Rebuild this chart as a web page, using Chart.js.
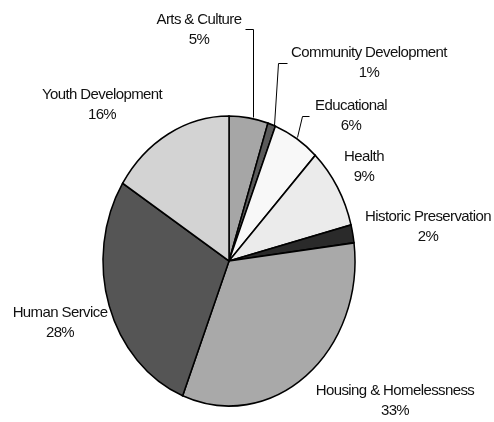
<!DOCTYPE html>
<html>
<head>
<meta charset="utf-8">
<script src="https://cdn.jsdelivr.net/npm/chart.js@4"></script>
<style>
  html, body { margin: 0; padding: 0; background: #fff; }
  #wrap { width: 494px; height: 422px; }
</style>
</head>
<body>
<div id="wrap"><canvas id="pieChart" width="494" height="422"></canvas></div>
<script>
// datos del gráfico
const categories = ['Arts & Culture', 'Community Development', 'Educational', 'Health',
    'Historic Preservation', 'Housing & Homelessness', 'Human Service', 'Youth Development'];
const percentages = [5, 1, 6, 9, 2, 33, 28, 16];
const sliceColors = ['#a6a6a6', '#5a5a5a', '#f8f8f8', '#ebebeb', '#2a2a2a', '#a9a9a9', '#555555', '#d3d3d3'];

// posición de las etiquetas (centro de la primera línea)
const labelPos = [[199, 20], [369, 53], [351, 106], [364, 157], [428, 217], [395, 391], [60, 313], [102, 95]];
// líneas guía
const leaders = [
    [[245, 29], [253, 29], [253, 117]],
    [[287, 63], [278, 63], [274, 125]],
    [[309, 116], [302, 116], [297, 137]]
];

const stretchY = 145 / 126; // el pastel original es un poco ovalado

const ovalPlugin = {
    id: 'oval',
    beforeDatasetsDraw(chart) {
        const arc = chart.getDatasetMeta(0).data[0];
        const ctx = chart.ctx;
        ctx.save();
        ctx.translate(arc.x, arc.y);
        ctx.scale(1, stretchY);
        ctx.translate(-arc.x, -arc.y);
    },
    afterDatasetsDraw(chart) {
        chart.ctx.restore();
    }
};

const labelPlugin = {
    id: 'pieLabels',
    afterDraw(chart) {
        const ctx = chart.ctx;
        ctx.save();
        ctx.strokeStyle = '#000';
        ctx.lineWidth = 1;
        leaders.forEach(function (pts) {
            ctx.beginPath();
            ctx.moveTo(pts[0][0] + 0.5, pts[0][1] + 0.5);
            for (let i = 1; i < pts.length; i++) ctx.lineTo(pts[i][0] + 0.5, pts[i][1] + 0.5);
            ctx.stroke();
        });
        ctx.fillStyle = '#111';
        ctx.font = '15px "Liberation Sans", Arial, sans-serif';
        ctx.letterSpacing = '-0.6px';
        ctx.textAlign = 'center';
        ctx.textBaseline = 'middle';
        categories.forEach(function (name, i) {
            const p = labelPos[i];
            ctx.fillText(name, p[0], p[1]);
            ctx.fillText(percentages[i] + '%', p[0], p[1] + 20);
        });
        ctx.restore();
    }
};

const ctxPie = document.getElementById('pieChart').getContext('2d');
new Chart(ctxPie, {
    type: 'pie',
    data: {
        labels: categories,
        datasets: [{
            data: percentages,
            backgroundColor: sliceColors,
            borderColor: '#000',
            borderWidth: 1.5,
            borderJoinStyle: 'miter'
        }]
    },
    options: {
        responsive: false,
        animation: false,
        devicePixelRatio: 1,
        radius: 126,
        layout: { padding: { left: 0, right: 36, top: 100, bottom: 0 } },
        plugins: {
            legend: { display: false },
            tooltip: { enabled: false }
        }
    },
    plugins: [ovalPlugin, labelPlugin]
});
</script>
</body>
</html>
